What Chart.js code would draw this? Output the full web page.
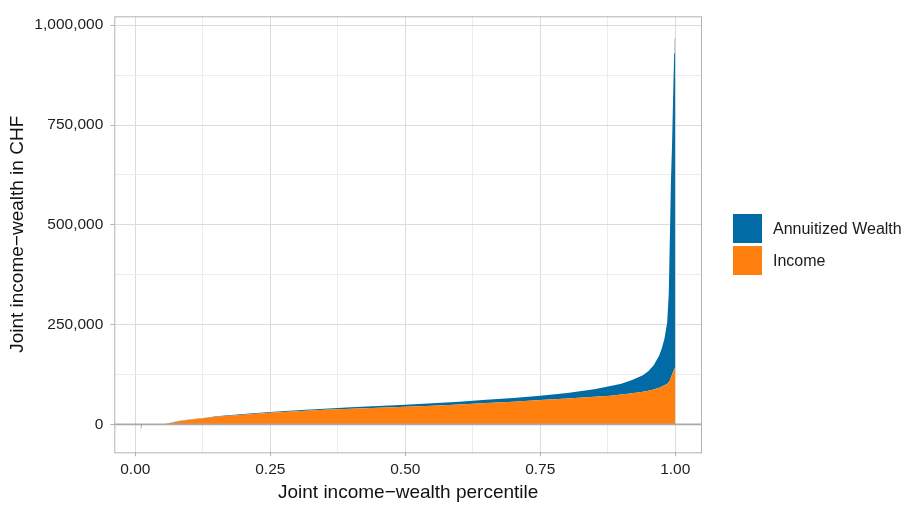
<!DOCTYPE html>
<html>
<head>
<meta charset="utf-8">
<script src="https://cdn.jsdelivr.net/npm/chart.js@4"></script>
<style>
  body { margin: 0; background: #fff; }
  #wrap { position: relative; width: 910px; height: 505px; font-family: "Liberation Sans", Arial, sans-serif; }
  #legend { position: absolute; left: 733px; top: 214px; }
  .row { display: flex; align-items: center; height: 29px; margin-bottom: 3px; }
  .key { width: 29px; height: 29px; margin-right: 11px; }
  .lbl { font-size: 16px; color: #1a1a1a; }
</style>
</head>
<body>
<div id="wrap">
  <canvas id="c" width="910" height="505"></canvas>
  <div id="legend"></div>
</div>
<script>
// percentiles (x) and stacked components in CHF
const percentile = [0.01, 0.0118, 0.02, 0.05, 0.08, 0.10, 0.13, 0.15,
  0.20, 0.25, 0.30, 0.35, 0.40, 0.45, 0.50, 0.55, 0.60, 0.65, 0.70, 0.75, 0.80, 0.85,
  0.88, 0.90, 0.92, 0.94, 0.95, 0.96, 0.97, 0.975, 0.98, 0.985, 0.988, 0.99, 0.992, 0.994, 0.996, 0.998, 0.999, 1.0];
const income = [0, 0, 0, 0, 8000, 11500, 16000, 19000,
  24500, 29000, 33000, 36500, 39500, 42000, 44500, 47000, 50000, 53500, 57000, 61000, 65000, 69500,
  72000, 75000, 78000, 82000, 84500, 87500, 92000, 95000, 98000, 102000, 106000, 110000, 118000, 125000, 132000, 138000, 141000, 143000];
const wealth = [-20000, 0, 0, 0, 300, 600, 1000, 1300,
  1500, 2000, 2500, 3000, 3500, 4000, 5000, 6000, 7000, 8000, 9000, 11000, 14000, 18500,
  24000, 27000, 33000, 41000, 48500, 60500, 80000, 95000, 117000, 153000, 224000, 360000, 492000, 575000, 688000, 792000, 824000, 827000];

const seriesNames = ['Income', 'Annuitized Wealth'];
const seriesColors = ['#FF800E', '#006BA4'];

const xMajor = [0, 0.25, 0.5, 0.75, 1];
const xMinor = [0.125, 0.375, 0.625, 0.875];
const yMajor = [0, 250000, 500000, 750000, 1000000];
const yMinor = [125000, 375000, 625000, 875000];

const FONT = '"Liberation Sans", Arial, sans-serif';

function gridStyle(major) {
  return {
    color: ctx => major.includes(ctx.tick.value) ? '#dcdcdc' : '#ececec',
    lineWidth: 1,
    tickColor: ctx => major.includes(ctx.tick.value) ? '#b3b3b3' : 'rgba(0,0,0,0)',
    tickLength: 4,
    drawTicks: true
  };
}

// panel border + zero line, drawn on top like ggplot
const panelPlugin = {
  id: 'panel',
  afterDatasetsDraw(chart) {
    const { ctx, chartArea: a, scales } = chart;
    const y0 = scales.y.getPixelForValue(0);
    ctx.save();
    ctx.strokeStyle = '#a9a9a9';
    ctx.lineWidth = 1.8;
    ctx.beginPath();
    ctx.moveTo(a.left, y0);
    ctx.lineTo(a.right, y0);
    ctx.stroke();
    ctx.strokeStyle = '#b3b3b3';
    ctx.lineWidth = 1;
    ctx.strokeRect(a.left + 0.5, a.top + 0.5, a.right - a.left - 1, a.bottom - a.top);
    ctx.restore();
  }
};

new Chart(document.getElementById('c'), {
  type: 'line',
  data: {
    datasets: [
      {
        label: seriesNames[0],
        data: percentile.map((p, i) => ({ x: p, y: income[i] })),
        backgroundColor: seriesColors[0],
        borderColor: 'rgba(0,0,0,0)',
        borderWidth: 0,
        pointRadius: 0,
        tension: 0,
        fill: 'origin'
      },
      {
        label: seriesNames[1],
        data: percentile.map((p, i) => ({ x: p, y: wealth[i] })),
        backgroundColor: seriesColors[1],
        borderColor: 'rgba(0,0,0,0)',
        borderWidth: 0,
        pointRadius: 0,
        tension: 0,
        fill: '-1'
      }
    ]
  },
  options: {
    responsive: false,
    animation: false,
    devicePixelRatio: 1,
    layout: { padding: { left: 0, top: 6.7, right: 208, bottom: 0 } },
    plugins: { legend: { display: false }, tooltip: { enabled: false } },
    scales: {
      x: {
        type: 'linear',
        min: -0.0389,
        max: 1.0495,
        afterBuildTicks: s => { s.ticks = [...xMajor, ...xMinor].sort((a, b) => a - b).map(v => ({ value: v })); },
        afterFit: s => { s.height = 52.7; },
        grid: gridStyle(xMajor),
        border: { display: false },
        ticks: {
          autoSkip: false,
          maxRotation: 0,
          padding: 4,
          color: '#1e1e1e',
          font: { family: FONT, size: 15.5 },
          callback: v => xMajor.includes(v) ? v.toFixed(2) : ''
        },
        title: {
          display: true,
          text: 'Joint income\u2212wealth percentile',
          color: '#111',
          font: { family: FONT, size: 19 },
          padding: { top: 0, bottom: 0.8 }
        }
      },
      y: {
        stacked: true,
        min: -69850,
        max: 1022300,
        afterBuildTicks: s => { s.ticks = [...yMajor, ...yMinor].sort((a, b) => a - b).map(v => ({ value: v })); },
        afterFit: s => { s.width = 114.3; },
        grid: gridStyle(yMajor),
        border: { display: false },
        ticks: {
          autoSkip: false,
          padding: 7,
          color: '#1e1e1e',
          font: { family: FONT, size: 15.5 },
          callback: v => yMajor.includes(v) ? v.toLocaleString('en-US') : ''
        },
        title: {
          display: true,
          text: 'Joint income\u2212wealth in CHF',
          color: '#111',
          font: { family: FONT, size: 19 },
          padding: { top: 6.6, bottom: 0 }
        }
      }
    }
  },
  plugins: [panelPlugin]
});

// legend, wealth listed first as in the reference
const legend = document.getElementById('legend');
[1, 0].forEach(i => {
  const row = document.createElement('div');
  row.className = 'row';
  row.innerHTML = '<div class="key" style="background:' + seriesColors[i] + '"></div><span class="lbl">' + seriesNames[i] + '</span>';
  legend.appendChild(row);
});
</script>
</body>
</html>
